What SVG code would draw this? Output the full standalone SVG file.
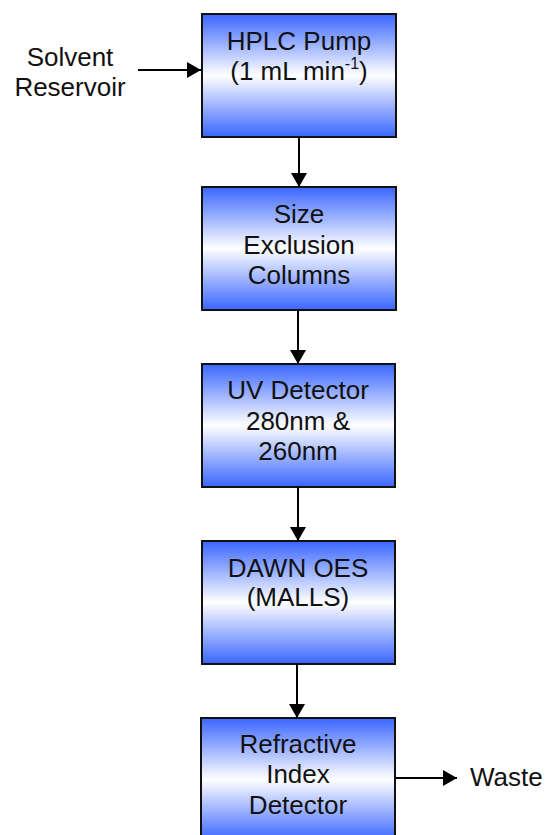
<svg xmlns="http://www.w3.org/2000/svg" width="547" height="835" viewBox="0 0 547 835">
<style>
  .box { fill: url(#g); stroke: #111; stroke-width: 2; }
  .t { font-family: "Liberation Sans", Arial, sans-serif; font-size: 26px; fill: #111; text-anchor: middle; }
  .tl { font-family: "Liberation Sans", Arial, sans-serif; font-size: 26px; fill: #111; }
  .c { stroke: #000; stroke-width: 2; fill: none; marker-end: url(#ah); }
</style>
<defs>
  <linearGradient id="g" x1="0" y1="0" x2="0" y2="1">
    <stop offset="0" stop-color="#3A66FF"/>
    <stop offset="0.5" stop-color="#FFFFFF"/>
    <stop offset="1" stop-color="#3A66FF"/>
  </linearGradient>
  <marker id="ah" markerWidth="14" markerHeight="16" refX="14" refY="8" orient="auto" markerUnits="userSpaceOnUse">
    <path d="M0,0 L14,8 L0,16 Z" fill="#000"/>
  </marker>
</defs>
<rect width="547" height="835" fill="#fff"/>
<g id="solvent">
  <text class="t" x="70" y="66">Solvent</text>
  <text class="t" x="70" y="96">Reservoir</text>
</g>
<g id="pump">
  <rect class="box" x="202" y="14" width="194" height="123"/>
  <text class="t" x="299" y="50">HPLC Pump</text>
  <text class="t" x="299" y="80">(1 mL min<tspan font-size="16" dy="-11">-1</tspan><tspan dy="11">)</tspan></text>
</g>
<g id="sec">
  <rect class="box" x="202" y="187" width="194" height="123"/>
  <text class="t" x="299" y="223">Size</text>
  <text class="t" x="299" y="254">Exclusion</text>
  <text class="t" x="299" y="284">Columns</text>
</g>
<g id="uv">
  <rect class="box" x="202" y="364" width="193" height="123"/>
  <text class="t" x="298" y="399">UV Detector</text>
  <text class="t" x="298" y="430">280nm &amp;</text>
  <text class="t" x="298" y="460">260nm</text>
</g>
<g id="dawn">
  <rect class="box" x="202" y="541" width="193" height="123"/>
  <text class="t" x="298" y="577">DAWN OES</text>
  <text class="t" x="298" y="606">(MALLS)</text>
</g>
<g id="ri">
  <rect class="box" x="201" y="718" width="194" height="123"/>
  <text class="t" x="298" y="753">Refractive</text>
  <text class="t" x="298" y="783">Index</text>
  <text class="t" x="298" y="814">Detector</text>
</g>
<g id="waste">
  <text class="tl" x="470" y="786">Waste</text>
</g>
<g id="connectors">
  <line class="c" x1="138" y1="70" x2="201" y2="70"/>
  <line class="c" x1="299" y1="137" x2="299" y2="187"/>
  <line class="c" x1="298" y1="310" x2="298" y2="364"/>
  <line class="c" x1="298" y1="487" x2="298" y2="541"/>
  <line class="c" x1="297" y1="664" x2="297" y2="718"/>
  <line class="c" x1="396" y1="778" x2="457" y2="778"/>
</g>
</svg>
